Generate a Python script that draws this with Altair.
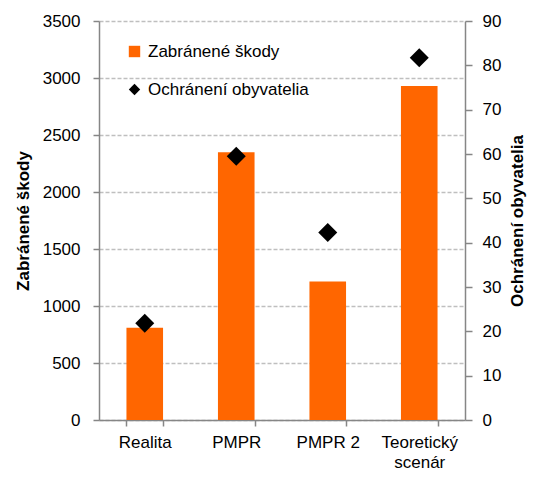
import altair as alt
import pandas as pd

categories = ["Realita", "PMPR", "PMPR 2", "Teoretický scenár"]
damages = [810, 2348, 1214, 2930]
residents = [21.8, 59.5, 42.3, 81.7]

bar_name = "Zabránené škody"
pt_name = "Ochránení obyvatelia"
orange = "#FF6600"
black = "#000000"
font = "Liberation Sans"
axis_gray = "#868686"
fs = 17

df = pd.DataFrame({
    "category": categories,
    "damages": damages,
    "residents": residents,
    "series_pt": [pt_name] * len(categories),
})

x_enc = alt.X(
    "category:N",
    sort=categories,
    scale=alt.Scale(paddingInner=0.6, paddingOuter=0.3),
    axis=alt.Axis(
        title=None,
        labelAngle=0,
        labelFont=font,
        labelFontSize=fs,
        labelColor="black",
        labelPadding=8,
        labelLineHeight=20,
        labelExpr="datum.value == 'Teoretický scenár' ? ['Teoretický', 'scenár'] : datum.value",
        tickBand="extent",
        tickSize=6,
        tickColor=axis_gray,
        tickWidth=1.5,
        domainColor=axis_gray,
        domainWidth=1.5,
        grid=False,
    ),
)

bars = alt.Chart(df).mark_bar(color=orange).encode(
    x=x_enc,
    y=alt.Y(
        "damages:Q",
        scale=alt.Scale(domain=[0, 3500], nice=False),
        axis=alt.Axis(
            title=bar_name,
            values=list(range(0, 3501, 500)),
            format="d",
            titleFont=font,
            titleFontSize=fs,
            titleFontWeight="bold",
            titleColor="black",
            titlePadding=10,
            labelFont=font,
            labelFontSize=fs,
            labelColor="black",
            labelPadding=13,
            tickSize=6,
            tickColor=axis_gray,
            tickWidth=1.5,
            domainColor=axis_gray,
            domainWidth=1.5,
            grid=True,
            gridColor="#BFBFBF",
            gridDash=[4, 2],
            gridWidth=1.5,
        ),
    ),
)

legend = alt.Legend(
    title=None,
    orient="none",
    legendX=27,
    legendY=22,
    labelFont=font,
    labelFontSize=fs,
    labelColor="black",
    labelLimit=0,
    symbolSize=130,
    symbolStrokeWidth=0,
    rowPadding=20,
    labelOffset=5,
    padding=0,
)

points = alt.Chart(df).mark_point(filled=True, size=360, opacity=1).encode(
    x=x_enc,
    y=alt.Y(
        "residents:Q",
        scale=alt.Scale(domain=[0, 90], nice=False),
        axis=alt.Axis(
            title=pt_name,
            orient="right",
            values=list(range(0, 91, 10)),
            format="d",
            titleAngle=270,
            titleBaseline="top",
            titleFont=font,
            titleFontSize=fs,
            titleFontWeight="bold",
            titleColor="black",
            titlePadding=9,
            labelFont=font,
            labelFontSize=fs,
            labelColor="black",
            labelPadding=10,
            tickSize=7,
            tickColor=axis_gray,
            tickWidth=1.5,
            domainColor=axis_gray,
            domainWidth=1.5,
            grid=False,
        ),
    ),
    color=alt.Color(
        "series_pt:N",
        scale=alt.Scale(domain=[bar_name, pt_name], range=[orange, black]),
        legend=legend,
    ),
    shape=alt.Shape(
        "series_pt:N",
        scale=alt.Scale(domain=[bar_name, pt_name], range=["square", "diamond"]),
        legend=legend,
    ),
)

chart = alt.layer(bars, points).resolve_scale(y="independent").properties(
    width=366,
    height=399,
    padding={"left": 91, "top": 13, "right": 65, "bottom": 52},
    autosize=alt.AutoSizeParams(type="none"),
).configure_view(stroke=None)

chart.save("out.html", embed_options={"renderer": "svg", "actions": False})
